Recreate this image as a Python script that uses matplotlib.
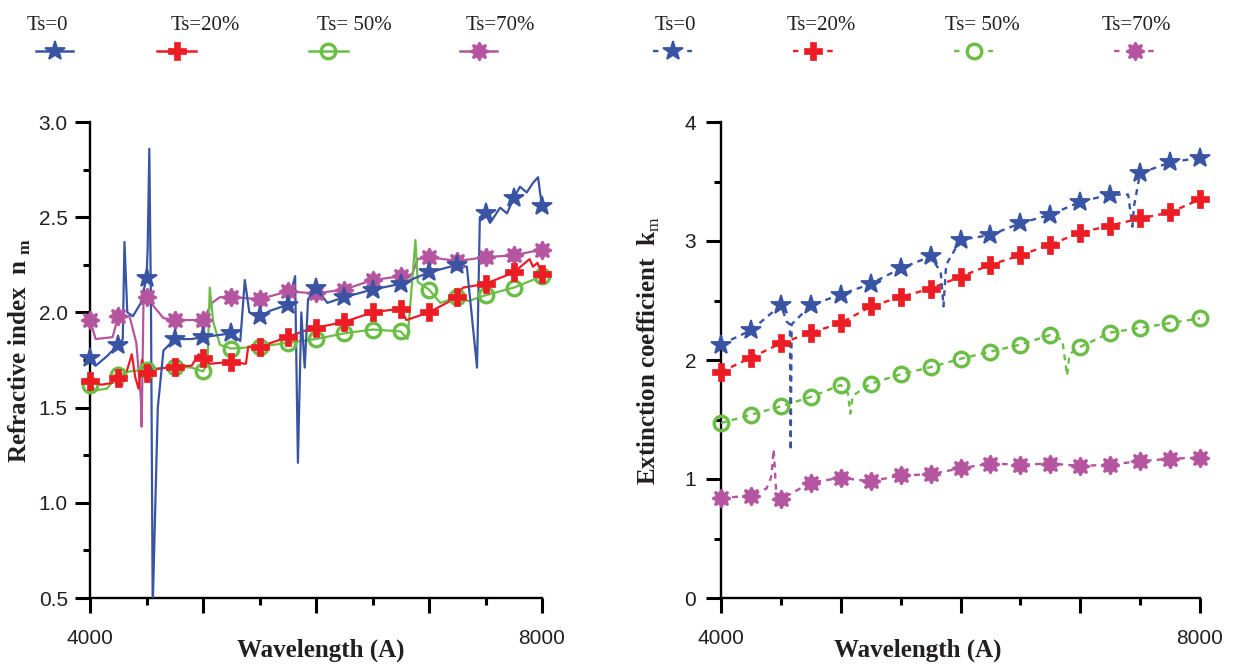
import numpy as np
import matplotlib
matplotlib.use('Agg')
import matplotlib.pyplot as plt
from matplotlib.lines import Line2D
from matplotlib.ticker import FixedLocator

plt.rcParams['font.family'] = ['Liberation Sans', 'DejaVu Sans']
plt.rcParams['mathtext.fontset'] = 'custom'
plt.rcParams['mathtext.rm'] = 'Liberation Serif'
plt.rcParams['mathtext.bf'] = 'Liberation Serif:bold'

# marker wavelengths (every 250 A)
wl_mark = [4000, 4250, 4500, 4750, 5000, 5250, 5500, 5750, 6000,
           6250, 6500, 6750, 7000, 7250, 7500, 7750, 8000]
labels = ['Ts=0', 'Ts=20%', 'Ts= 50%', 'Ts=70%']

# ---- refractive index n_m (left panel) ----
n0_mark = [1.76, 1.83, 2.18, 1.86, 1.87, 1.89, 1.98, 2.04, 2.13,
           2.08, 2.12, 2.15, 2.21, 2.25, 2.52, 2.60, 2.56]
n0_wl = [4000, 4050, 4150, 4250, 4290, 4305, 4330, 4380, 4450, 4500, 4510, 4525, 4540,
         4555, 4600, 4650, 4750, 4900, 5000, 5250, 5330, 5370, 5410, 5500, 5600, 5750,
         5815, 5840, 5870, 5900, 5930, 6000, 6100, 6250, 6500, 6750, 7000, 7250, 7335,
         7425, 7450, 7500, 7540, 7630, 7690, 7750, 7805, 7865, 7920, 7965, 7985, 8000]
n0_val = [1.76, 1.72, 1.77, 1.83, 1.86, 2.37, 2.00, 1.98, 2.05, 2.18, 2.33, 2.86, 2.00,
          0.45, 1.50, 1.80, 1.86, 1.86, 1.87, 1.89, 1.85, 2.17, 2.00, 1.98, 2.01, 2.04,
          2.19, 1.21, 2.00, 1.71, 2.07, 2.13, 2.05, 2.08, 2.12, 2.15, 2.21, 2.25, 2.24,
          1.71, 2.50, 2.52, 2.47, 2.55, 2.52, 2.60, 2.66, 2.63, 2.68, 2.71, 2.62, 2.56]

n20_mark = [1.64, 1.655, 1.68, 1.715, 1.76, 1.74, 1.82, 1.87, 1.92,
            1.95, 2.00, 2.02, 2.00, 2.08, 2.15, 2.21, 2.20]
n20_wl = [4000, 4100, 4200, 4220, 4240, 4250, 4280, 4300, 4330, 4370, 4400, 4430, 4460,
          4500, 4560, 4750, 4900, 4960, 5000, 5060, 5250, 5380, 5400, 5500, 5600, 5750,
          5880, 6000, 6250, 6500, 6750, 6800, 7000, 7250, 7300, 7500, 7750, 7890, 7920,
          7960, 8000]
n20_val = [1.64, 1.62, 1.63, 1.67, 1.62, 1.655, 1.61, 1.66, 1.70, 1.78, 1.66, 1.60, 1.75,
           1.68, 1.70, 1.715, 1.72, 1.78, 1.76, 1.73, 1.74, 1.73, 1.82, 1.82, 1.84, 1.87,
           1.90, 1.92, 1.95, 2.00, 2.02, 1.96, 2.00, 2.08, 2.13, 2.15, 2.21, 2.28, 2.24,
           2.26, 2.20]

n50_mark = [1.62, 1.67, 1.70, 1.715, 1.69, 1.81, 1.82, 1.84, 1.86,
            1.89, 1.91, 1.90, 2.12, 2.08, 2.09, 2.13, 2.19]
n50_wl = [4000, 4050, 4150, 4250, 4350, 4500, 4750, 4900, 5000, 5040, 5060, 5090, 5150,
          5250, 5500, 5750, 6000, 6250, 6500, 6750, 6810, 6880, 6900, 7000, 7100, 7250,
          7350, 7500, 7750, 8000]
n50_val = [1.62, 1.59, 1.60, 1.67, 1.69, 1.70, 1.715, 1.71, 1.69, 1.73, 2.13, 1.95, 1.83,
           1.81, 1.82, 1.84, 1.86, 1.89, 1.91, 1.90, 1.86, 2.38, 2.16, 2.12, 2.05, 2.08,
           2.06, 2.09, 2.13, 2.19]

n70_mark = [1.96, 1.98, 2.08, 1.96, 1.96, 2.08, 2.07, 2.11, 2.10,
            2.12, 2.17, 2.19, 2.29, 2.27, 2.29, 2.30, 2.33]
n70_wl = [4000, 4050, 4200, 4250, 4350, 4410, 4450, 4457, 4475, 4500, 4580, 4650, 4750,
          5000, 5080, 5150, 5250, 5500, 5750, 6000, 6250, 6500, 6750, 6850, 6900, 7000,
          7250, 7500, 7750, 8000]
n70_val = [1.96, 1.86, 1.87, 1.98, 1.98, 1.84, 1.55, 1.40, 2.12, 2.08, 2.02, 1.97, 1.96,
           1.96, 2.05, 2.08, 2.08, 2.07, 2.11, 2.10, 2.12, 2.17, 2.19, 2.20, 2.28, 2.29,
           2.27, 2.29, 2.30, 2.33]

# ---- extinction coefficient k_m (right panel) ----
k0_mark = [2.13, 2.25, 2.46, 2.46, 2.55, 2.64, 2.77, 2.87, 3.01,
           3.05, 3.15, 3.22, 3.33, 3.39, 3.57, 3.66, 3.70]
k0_wl = [4000, 4250, 4500, 4550, 4575, 4582, 4590, 4750, 5000, 5250, 5500, 5750, 5835,
         5858, 5880, 6000, 6250, 6500, 6750, 7000, 7250, 7400, 7435, 7450, 7500, 7750, 8000]
k0_val = [2.13, 2.25, 2.46, 2.32, 2.30, 1.24, 2.30, 2.46, 2.55, 2.64, 2.77, 2.87, 2.74,
          2.45, 2.80, 3.01, 3.05, 3.15, 3.22, 3.33, 3.39, 3.39, 3.12, 3.30, 3.57, 3.66, 3.70]

k20_mark = [1.90, 2.02, 2.14, 2.23, 2.31, 2.45, 2.53, 2.60, 2.70,
            2.80, 2.88, 2.97, 3.07, 3.13, 3.19, 3.24, 3.35]

k50_mark = [1.47, 1.54, 1.61, 1.69, 1.79, 1.80, 1.88, 1.94, 2.01,
            2.07, 2.13, 2.21, 2.11, 2.23, 2.27, 2.31, 2.35]
k50_wl = [4000, 4250, 4500, 4750, 5000, 5060, 5080, 5100, 5250, 5500, 5750, 6000, 6250,
          6500, 6750, 6850, 6890, 6910, 7000, 7250, 7500, 7750, 8000]
k50_val = [1.47, 1.54, 1.61, 1.69, 1.79, 1.72, 1.55, 1.70, 1.80, 1.88, 1.94, 2.01, 2.07,
           2.13, 2.21, 2.17, 1.87, 2.05, 2.11, 2.23, 2.27, 2.31, 2.35]

k70_mark = [0.84, 0.86, 0.83, 0.97, 1.01, 0.98, 1.03, 1.04, 1.09,
            1.13, 1.12, 1.13, 1.11, 1.12, 1.15, 1.17, 1.18]
k70_wl = [4000, 4250, 4380, 4420, 4440, 4460, 4500, 4750, 5000, 5250, 5500, 5750, 6000,
          6250, 6500, 6750, 7000, 7250, 7500, 7750, 8000]
k70_val = [0.84, 0.86, 0.92, 1.02, 1.25, 0.90, 0.83, 0.97, 1.01, 0.98, 1.03, 1.04, 1.09,
           1.13, 1.12, 1.13, 1.11, 1.12, 1.15, 1.17, 1.18]

BLUE, RED, GREEN, MAGENTA = '#3A54A4', '#EC1C24', '#6BBE45', '#B5549F'
colors = [BLUE, RED, GREEN, MAGENTA]

# rounded 8-lobed "flower" marker for Ts=70%
theta = np.linspace(0, 2 * np.pi, 97)
rad = 1 + 0.2 * np.cos(8 * theta)
flower = np.column_stack([rad * np.cos(theta), rad * np.sin(theta)])

mstyles = [
    dict(marker='*', markersize=15, markerfacecolor=BLUE, markeredgecolor=BLUE, markeredgewidth=1.3),
    dict(marker='P', markersize=12.5, markerfacecolor=RED, markeredgecolor=RED, markeredgewidth=0.5),
    dict(marker='o', markersize=10.5, markerfacecolor='none', markeredgecolor=GREEN, markeredgewidth=2.4),
    dict(marker=flower, markersize=13.5, markerfacecolor=MAGENTA, markeredgecolor=MAGENTA, markeredgewidth=0.5),
]

DASH = (0, (2.5, 2.2))


def style_axes(ax, ylim, ymajor, yminor, ypad):
    ax.set_xlim(4000, 8000)
    ax.set_ylim(*ylim)
    for s in ['top', 'right']:
        ax.spines[s].set_visible(False)
    for s in ['left', 'bottom']:
        ax.spines[s].set_linewidth(1.7)
    ax.xaxis.set_major_locator(FixedLocator([4000, 5000, 6000, 7000, 8000]))
    ax.xaxis.set_minor_locator(FixedLocator([4500, 5500, 6500, 7500]))
    ax.set_xticklabels(['4000', '', '', '', '8000'])
    ax.yaxis.set_major_locator(FixedLocator(ymajor))
    ax.yaxis.set_minor_locator(FixedLocator(yminor))
    ax.tick_params(axis='both', which='major', direction='out', length=10.5, width=2.2,
                   labelsize=15, colors='black', labelcolor='#231F20')
    ax.tick_params(axis='both', which='minor', direction='out', length=5, width=2.2)
    ax.tick_params(axis='x', which='major', pad=12)
    ax.tick_params(axis='y', which='major', pad=ypad)
    ax.set_xlabel('Wavelength (A)', fontfamily='Liberation Serif', fontweight='bold',
                  fontsize=18, color='#231F20')


fig = plt.figure(figsize=(12.34, 6.65), dpi=100)
ax1 = fig.add_axes([90 / 1234, 67 / 665, 452 / 1234, 476 / 665])
ax2 = fig.add_axes([721 / 1234, 67 / 665, 479 / 1234, 476 / 665])

# left panel: solid lines (Ts=0 on top, Ts=70% at the back)
n_lines = [(n0_wl, n0_val, n0_mark), (n20_wl, n20_val, n20_mark),
           (n50_wl, n50_val, n50_mark), (n70_wl, n70_val, n70_mark)]
for order in [3, 2, 1, 0]:
    lw_, lv, mk = n_lines[order]
    ax1.plot(lw_, lv, color=colors[order], lw=1.6, zorder=5 - order)
for order in [3, 2, 1, 0]:
    lw_, lv, mk = n_lines[order]
    ax1.plot(wl_mark, mk, linestyle='none', clip_on=False, zorder=10 - order, **mstyles[order])

style_axes(ax1, (0.5, 3.0), [0.5, 1.0, 1.5, 2.0, 2.5, 3.0], [0.75, 1.25, 1.75, 2.25, 2.75], 5.5)
ax1.set_yticklabels(['0.5', '1.0', '1.5', '2.0', '2.5', '3.0'])
ax1.set_ylabel('Refractive index  n $_\\mathbf{m}$', fontfamily='Liberation Serif',
               fontweight='bold', fontsize=18, color='#231F20')
ax1.xaxis.set_label_coords(0.51, -0.085)
ax1.yaxis.set_label_coords(-0.125, 0.52)

# right panel: dashed lines
k_lines = [(k0_wl, k0_val, k0_mark), (wl_mark, k20_mark, k20_mark),
           (k50_wl, k50_val, k50_mark), (k70_wl, k70_val, k70_mark)]
for order in [3, 2, 1, 0]:
    lw_, lv, mk = k_lines[order]
    ax2.plot(lw_, lv, color=colors[order], lw=1.7, linestyle=DASH, zorder=5 - order)
    ax2.plot(wl_mark, mk, linestyle='none', clip_on=False, zorder=10 - order, **mstyles[order])

style_axes(ax2, (0, 4), [0, 1, 2, 3, 4], [0.5, 1.5, 2.5, 3.5], 7.5)
ax2.set_yticklabels(['0', '1', '2', '3', '4'])
ax2.set_ylabel('Extinction coefficient  k$_\\mathrm{m}$', fontfamily='Liberation Serif',
               fontweight='bold', fontsize=18, color='#231F20')
ax2.xaxis.set_label_coords(0.41, -0.085)
ax2.yaxis.set_label_coords(-0.123, 0.52)


# legends drawn as rows: label text above a short sample line
def px(x, y):
    return x / 1234, 1 - y / 665


left_text = [27, 171, 317, 466]
left_hand = [(36, 73), (157, 196), (309, 348), (460, 497)]
right_text = [655, 787, 945, 1102]
right_hand = [(653, 692), (793, 833), (954, 993), (1114, 1155)]

for i in range(4):
    for tx, (h0, h1), dashed in [(left_text[i], left_hand[i], False),
                                 (right_text[i], right_hand[i], True)]:
        fx, fy = px(tx, 30)
        fig.text(fx, fy, labels[i], fontfamily='Liberation Serif', fontsize=15,
                 ha='left', va='baseline', color='#231F20')
        x0, y0 = px(h0, 51)
        x1, _ = px(h1, 51)
        if dashed:
            fig.add_artist(Line2D([x0, x1], [y0, y0], transform=fig.transFigure, color=colors[i],
                                  lw=1.7, linestyle=(0, (2.3, 12.2))))
        else:
            fig.add_artist(Line2D([x0, x1], [y0, y0], transform=fig.transFigure, color=colors[i],
                                  lw=1.8))
        fig.add_artist(Line2D([(x0 + x1) / 2], [y0], transform=fig.transFigure,
                              linestyle='none', **mstyles[i]))

fig.savefig('out.png', dpi=100)
